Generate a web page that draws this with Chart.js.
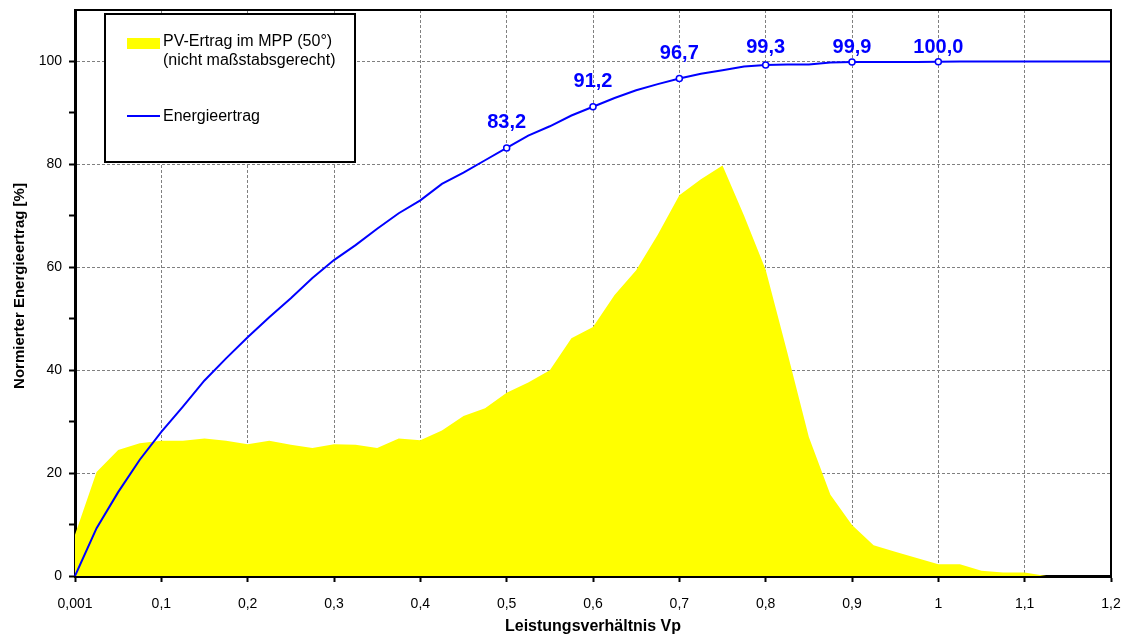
<!DOCTYPE html>
<html>
<head>
<meta charset="utf-8">
<script src="https://cdn.jsdelivr.net/npm/chart.js@4/dist/chart.umd.min.js"></script>
<style>
  html, body { margin: 0; padding: 0; background: #fff; }
  #wrap { width: 1127px; height: 639px; }
</style>
</head>
<body>
<div id="wrap"><canvas id="c" width="1127" height="639"></canvas></div>
<script>
// Categories (x positions, Leistungsverhältnis Vp)
const xValues = [0.001, 0.025, 0.05, 0.075, 0.1, 0.125, 0.15, 0.175, 0.2, 0.225,
  0.25, 0.275, 0.3, 0.325, 0.35, 0.375, 0.4, 0.425, 0.45, 0.475,
  0.5, 0.525, 0.55, 0.575, 0.6, 0.625, 0.65, 0.675, 0.7, 0.725,
  0.75, 0.775, 0.8, 0.825, 0.85, 0.875, 0.9, 0.925, 0.95, 0.975,
  1.0, 1.025, 1.05, 1.075, 1.1, 1.125, 1.15, 1.175, 1.2];

// PV-Ertrag im MPP (50°), not to scale
const pvYield = [8, 20.2, 24.5, 25.8, 26.3, 26.3, 26.7, 26.3, 25.6, 26.3,
  25.5, 24.9, 25.6, 25.5, 24.9, 26.7, 26.4, 28.3, 31.1, 32.6,
  35.6, 37.6, 40.0, 46.2, 48.4, 54.6, 59.4, 66.3, 74.0, 77.1,
  79.8, 70.0, 59.5, 43.5, 27.0, 15.8, 9.9, 6.0, 4.7, 3.5,
  2.3, 2.3, 1.0, 0.7, 0.7, 0, 0, 0, 0];

// Energieertrag [%]
const energy = [0, 9.3, 16.3, 22.6, 28.0, 32.9, 38.0, 42.3, 46.4, 50.3,
  54.0, 57.9, 61.4, 64.3, 67.5, 70.5, 73.0, 76.2, 78.4, 80.8,
  83.2, 85.6, 87.4, 89.5, 91.2, 92.9, 94.4, 95.6, 96.7, 97.6,
  98.3, 99.0, 99.3, 99.4, 99.4, 99.8, 99.9, 99.9, 99.9, 99.9,
  99.96, 100, 100, 100, 100, 100, 100, 100, 100];

// x values whose energy point is marked and labelled
const labelledX = [0.5, 0.6, 0.7, 0.8, 0.9, 1.0];

// Axis tick labels and titles
const xTickLabels = ['0,001', '0,1', '0,2', '0,3', '0,4', '0,5', '0,6', '0,7', '0,8', '0,9', '1', '1,1', '1,2'];
const yTickLabels = ['0', '20', '40', '60', '80', '100'];
const yTitle = 'Normierter Energieertrag [%]';
const xTitle = 'Leistungsverhältnis Vp';

const FONT = "'Liberation Sans', Arial, Helvetica, sans-serif";
const isLabelled = (i) => labelledX.includes(xValues[i]);
const fmt = (v) => v.toFixed(1).replace('.', ',');

const framePlugin = {
  id: 'frame',
  afterDraw(chart) {
    const { ctx, chartArea: a } = chart;
    ctx.save();
    // top/right frame
    ctx.strokeStyle = '#000';
    ctx.lineWidth = 2;
    ctx.beginPath();
    ctx.moveTo(a.left, a.top);
    ctx.lineTo(a.right, a.top);
    ctx.lineTo(a.right, a.bottom);
    ctx.stroke();

    // y axis title
    ctx.save();
    ctx.translate(20, (a.top + a.bottom) / 2 - 7);
    ctx.rotate(-Math.PI / 2);
    ctx.fillStyle = '#000';
    ctx.font = 'bold 15px ' + FONT;
    ctx.textAlign = 'center';
    ctx.textBaseline = 'middle';
    ctx.fillText(yTitle, 0, 0);
    ctx.restore();

    // data labels
    const meta = chart.getDatasetMeta(1);
    ctx.fillStyle = '#0000ff';
    ctx.font = 'bold 20px ' + FONT;
    ctx.textAlign = 'center';
    ctx.textBaseline = 'middle';
    meta.data.forEach((pt, i) => {
      if (!isLabelled(i)) return;
      const y = Math.max(pt.y - 25, 47);
      ctx.fillText(fmt(energy[i]), pt.x, y);
    });

    // legend box
    const lx = 105, ly = 14, lw = 250, lh = 148;
    ctx.fillStyle = '#fff';
    ctx.fillRect(lx, ly, lw, lh);
    ctx.strokeStyle = '#000';
    ctx.lineWidth = 2;
    ctx.strokeRect(lx, ly, lw, lh);
    ctx.fillStyle = '#ffff00';
    ctx.fillRect(127, 38, 33, 11);
    ctx.fillStyle = '#000';
    ctx.font = '16px ' + FONT;
    ctx.textAlign = 'left';
    ctx.textBaseline = 'middle';
    ctx.fillText(chart.data.datasets[0].label, 163, 42);
    ctx.fillText('(nicht maßstabsgerecht)', 163, 61);
    ctx.strokeStyle = '#0000ff';
    ctx.lineWidth = 2;
    ctx.beginPath();
    ctx.moveTo(127, 116);
    ctx.lineTo(160, 116);
    ctx.stroke();
    ctx.fillStyle = '#000';
    ctx.fillText(chart.data.datasets[1].label, 163, 117);
    ctx.restore();
  }
};

new Chart(document.getElementById('c'), {
  type: 'line',
  data: {
    labels: xValues,
    datasets: [
      {
        label: 'PV-Ertrag im MPP (50°)',
        data: pvYield,
        fill: 'origin',
        backgroundColor: '#ffff00',
        borderWidth: 0,
        borderColor: 'rgba(0,0,0,0)',
        pointRadius: 0,
        tension: 0,
        order: 2
      },
      {
        label: 'Energieertrag',
        data: energy,
        fill: false,
        borderColor: '#0000ff',
        borderWidth: 2,
        pointRadius: (ctx) => isLabelled(ctx.dataIndex) ? 3 : 0,
        pointBackgroundColor: '#ffffff',
        pointBorderColor: '#0000ff',
        pointBorderWidth: 1.5,
        tension: 0,
        order: 1
      }
    ]
  },
  options: {
    responsive: false,
    animation: false,
    events: [],
    layout: { padding: { left: 0, right: 16, top: 10, bottom: 0 } },
    plugins: { legend: { display: false }, tooltip: { enabled: false } },
    scales: {
      x: {
        type: 'category',
        offset: false,
        afterFit: (s) => { s.height = 63; s.paddingLeft = 0; s.paddingRight = 0; },
        grid: {
          color: (c) => (c.index % 4 === 0 && c.index > 0) ? '#808080' : 'rgba(0,0,0,0)',
          lineWidth: 1,
          tickColor: (c) => (c.index % 4 === 0) ? '#000' : 'rgba(0,0,0,0)',
          tickLength: 6,
          tickWidth: 2
        },
        border: { display: true, color: '#000', width: 3, dash: [3, 2] },
        ticks: {
          autoSkip: false,
          maxRotation: 0,
          padding: 14,
          color: '#000',
          font: { family: FONT, size: 14 },
          callback: (v, i) => (i % 4 === 0) ? xTickLabels[i / 4] : ''
        },
        title: {
          display: true,
          text: xTitle,
          color: '#000',
          font: { family: FONT, size: 16, weight: 'bold' },
          padding: { top: 0, bottom: 3 }
        }
      },
      y: {
        min: 0,
        max: 110,
        afterFit: (s) => { s.width = 75; s.paddingTop = 0; s.paddingBottom = 0; },
        grid: {
          color: (c) => (c.tick && c.tick.value % 20 === 0 && c.tick.value > 0 && c.tick.value < 110) ? '#808080' : 'rgba(0,0,0,0)',
          lineWidth: 1,
          tickColor: (c) => (c.tick && c.tick.value < 110) ? '#000' : 'rgba(0,0,0,0)',
          tickLength: 6,
          tickWidth: 2
        },
        border: { display: true, color: '#000', width: 3, dash: [3, 2] },
        ticks: {
          stepSize: 10,
          padding: 7,
          color: '#000',
          font: { family: FONT, size: 14 },
          callback: (v) => (v % 20 === 0 && v <= 100) ? yTickLabels[v / 20] : ''
        },
        title: { display: false }
      }
    }
  },
  plugins: [framePlugin]
});
</script>
</body>
</html>
